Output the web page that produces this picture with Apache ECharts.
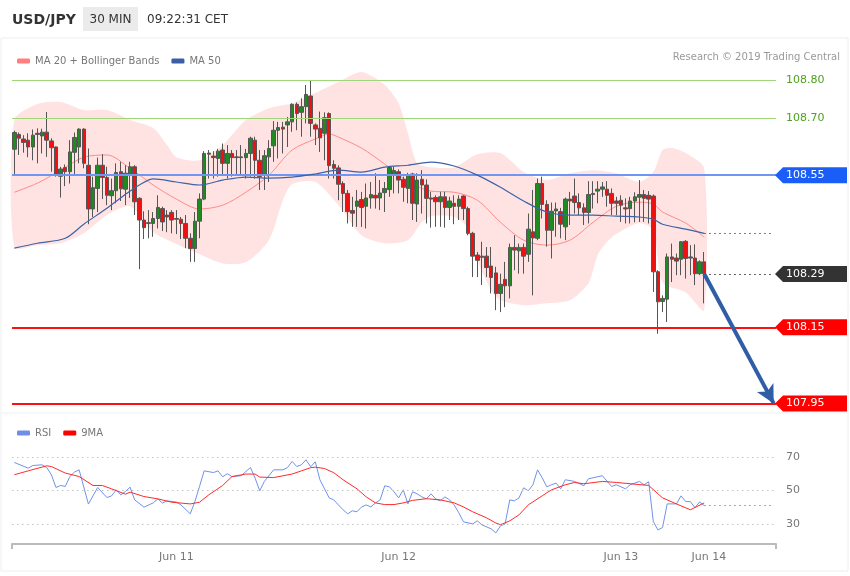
<!DOCTYPE html>
<html>
<head>
<meta charset="utf-8">
<script src="https://cdn.jsdelivr.net/npm/echarts@6/dist/echarts.min.js"></script>
<style>html,body{margin:0;padding:0;background:#fff}#c{width:850px;height:576px}</style>
</head>
<body>
<div id="c"></div>
<script>
// ---- candle data (30 min USD/JPY) ----
const opens = [108.618,108.657,108.645,108.642,108.624,108.660,108.653,108.663,108.640,108.624,
108.547,108.570,108.559,108.610,108.624,108.671,108.576,108.461,108.515,108.576,
108.544,108.496,108.509,108.559,108.513,108.550,108.572,108.489,108.432,108.425,
108.423,108.436,108.462,108.445,108.452,108.436,108.434,108.423,108.384,108.357,
108.429,108.487,108.608,108.600,108.594,108.616,108.581,108.607,108.598,108.596,
108.596,108.607,108.642,108.589,108.550,108.598,108.627,108.668,108.676,108.682,
108.690,108.736,108.715,108.730,108.758,108.682,108.673,108.660,108.712,108.578,
108.569,108.528,108.502,108.457,108.468,108.486,108.468,108.490,108.497,108.490,
108.504,108.512,108.553,108.559,108.539,108.515,108.553,108.474,108.539,108.524,
108.490,108.491,108.480,108.493,108.465,108.476,108.468,108.495,108.462,108.397,
108.340,108.337,108.337,108.311,108.293,108.239,108.276,108.259,108.360,108.351,
108.360,108.342,108.401,108.384,108.528,108.473,108.405,108.456,108.454,108.414,
108.487,108.495,108.478,108.464,108.452,108.499,108.508,108.513,108.513,108.502,
108.482,108.484,108.464,108.462,108.482,108.492,108.499,108.497,108.495,108.296,
108.218,108.224,108.335,108.332,108.329,108.376,108.335,108.332,108.291,108.322];
const closes = [108.662,108.647,108.636,108.624,108.655,108.657,108.663,108.642,108.622,108.553,
108.566,108.559,108.611,108.649,108.671,108.581,108.461,108.517,108.576,108.544,
108.497,108.509,108.557,108.514,108.555,108.572,108.480,108.432,108.412,108.423,
108.436,108.465,108.427,108.440,108.432,108.434,108.423,108.384,108.357,108.429,
108.487,108.607,108.605,108.596,108.613,108.581,108.607,108.596,108.596,108.598,
108.607,108.647,108.589,108.546,108.601,108.620,108.668,108.675,108.671,108.690,
108.736,108.712,108.730,108.762,108.686,108.671,108.648,108.701,108.575,108.568,
108.526,108.502,108.454,108.450,108.482,108.465,108.490,108.499,108.490,108.503,
108.515,108.570,108.562,108.537,108.518,108.550,108.476,108.537,108.524,108.489,
108.487,108.480,108.493,108.465,108.482,108.468,108.487,108.462,108.397,108.337,
108.326,108.334,108.307,108.281,108.239,108.263,108.259,108.360,108.353,108.360,
108.337,108.408,108.385,108.528,108.473,108.405,108.455,108.461,108.421,108.487,
108.482,108.478,108.464,108.452,108.499,108.502,108.513,108.519,108.497,108.476,
108.476,108.471,108.461,108.482,108.493,108.499,108.489,108.487,108.296,108.217,
108.226,108.335,108.329,108.324,108.375,108.331,108.332,108.291,108.322,108.291];
const lows = [108.550,108.603,108.609,108.597,108.589,108.581,108.607,108.598,108.559,108.546,
108.491,108.521,108.528,108.553,108.581,108.568,108.421,108.440,108.453,108.487,
108.471,108.458,108.476,108.482,108.471,108.490,108.445,108.303,108.382,108.384,
108.388,108.410,108.403,108.400,108.397,108.395,108.382,108.358,108.322,108.322,
108.384,108.484,108.541,108.541,108.546,108.550,108.541,108.546,108.550,108.550,
108.541,108.546,108.541,108.511,108.511,108.532,108.585,108.594,108.607,108.624,
108.664,108.668,108.651,108.686,108.651,108.629,108.611,108.589,108.541,108.541,
108.484,108.453,108.423,108.414,108.414,108.414,108.410,108.462,108.462,108.458,
108.453,108.493,108.502,108.502,108.480,108.476,108.432,108.427,108.449,108.423,
108.412,108.414,108.414,108.412,108.432,108.421,108.432,108.432,108.392,108.282,
108.282,108.261,108.282,108.239,108.195,108.190,108.203,108.226,108.300,108.291,
108.291,108.322,108.234,108.379,108.436,108.362,108.331,108.388,108.384,108.379,
108.419,108.449,108.445,108.419,108.423,108.462,108.476,108.493,108.467,108.445,
108.445,108.427,108.423,108.423,108.426,108.427,108.427,108.423,108.243,108.133,
108.190,108.164,108.269,108.287,108.287,108.278,108.287,108.261,108.287,108.213];
const highs = [108.667,108.662,108.655,108.660,108.670,108.673,108.672,108.716,108.647,108.625,
108.572,108.578,108.642,108.662,108.673,108.673,108.620,108.546,108.596,108.605,
108.572,108.541,108.581,108.585,108.576,108.585,108.576,108.492,108.455,108.458,
108.453,108.497,108.467,108.458,108.458,108.458,108.440,108.445,108.397,108.453,
108.502,108.613,108.616,108.613,108.619,108.633,108.629,108.616,108.616,108.629,
108.619,108.651,108.651,108.616,108.616,108.642,108.692,108.690,108.690,108.703,
108.739,108.741,108.752,108.787,108.800,108.686,108.717,108.715,108.715,108.589,
108.576,108.534,108.511,108.493,108.511,108.506,108.528,108.532,108.555,108.537,
108.532,108.572,108.572,108.565,108.546,108.556,108.556,108.555,108.563,108.539,
108.506,108.497,108.506,108.506,108.493,108.497,108.497,108.497,108.467,108.401,
108.348,108.375,108.361,108.361,108.309,108.291,108.322,108.370,108.392,108.370,
108.370,108.449,108.511,108.541,108.546,108.484,108.478,108.478,108.464,108.491,
108.506,108.541,108.502,108.476,108.534,108.534,108.534,108.532,108.534,108.515,
108.493,108.497,108.489,108.493,108.505,108.537,108.511,108.508,108.499,108.300,
108.234,108.344,108.370,108.344,108.376,108.379,108.366,108.368,108.326,108.348];

// ---- indicators (read at sampled candle indices) ----
const upperIdx  = [0,5,10,15,20,25,30,33,35,40,45,50,55,60,65,70,75,80,83,85,87,90,95,100,105,110,115,120,125,130,135,138,140,142,145,149];
const upperVals = [108.695,108.737,108.742,108.721,108.721,108.695,108.674,108.629,108.597,108.589,108.629,108.695,108.726,108.739,108.766,108.795,108.821,108.787,108.739,108.661,108.581,108.571,108.571,108.605,108.608,108.558,108.537,108.555,108.563,108.555,108.532,108.558,108.616,108.621,108.608,108.568];
const lowerIdx  = [0,5,10,15,20,25,30,35,40,45,50,55,58,60,65,70,75,80,85,88,90,95,98,100,103,105,110,115,120,124,126,128,130,135,138,140,145,149];
const lowerVals = [108.361,108.366,108.371,108.397,108.445,108.468,108.400,108.369,108.342,108.318,108.321,108.379,108.484,108.526,108.532,108.471,108.392,108.371,108.379,108.426,108.442,108.440,108.411,108.326,108.247,108.221,108.208,108.213,108.221,108.266,108.340,108.374,108.395,108.424,108.405,108.268,108.242,108.195];
const ma20Idx  = [0,5,10,15,20,25,30,35,40,45,50,55,60,65,68,70,75,80,85,90,95,100,105,110,115,120,125,130,135,138,140,145,149];
const ma20Vals = [108.505,108.529,108.563,108.597,108.603,108.568,108.524,108.487,108.461,108.471,108.505,108.550,108.616,108.645,108.658,108.650,108.621,108.579,108.534,108.508,108.505,108.484,108.426,108.379,108.366,108.379,108.426,108.468,108.479,108.474,108.453,108.424,108.387];
const ma50Idx  = [0,5,11,15,20,25,27,30,35,40,45,50,55,60,65,70,75,80,85,90,95,100,105,110,115,120,125,130,135,138,140,145,149];
const ma50Vals = [108.358,108.371,108.384,108.421,108.463,108.508,108.524,108.540,108.532,108.524,108.537,108.545,108.542,108.545,108.553,108.563,108.558,108.571,108.576,108.584,108.574,108.550,108.518,108.482,108.453,108.445,108.445,108.442,108.440,108.434,108.421,108.408,108.397];

const rsiIdx  = [0,3,4,6,7,8,9,10,11,12,13,14,16,18,20,21,22,23,24,25,26,28,30,31,32,33,35,36,38,39,40,41,43,44,45,46,47,49,51,52,53,54,56,58,59,60,61,62,63,64,65,66,68,69,70,71,72,73,74,75,76,77,78,79,80,81,82,83,84,85,86,87,88,89,90,91,92,93,94,95,96,97,99,100,101,103,104,105,106,107,108,109,110,111,112,113,114,115,116,117,118,119,121,123,124,127,129,130,132,133,135,136,137,138,139,140,141,143,144,145,146,147,148,149];
const rsiVals = [66.6,63.2,64.8,65.2,63.6,59.3,51.7,52.9,52.3,58.2,60.9,62.2,41.8,51.7,45.7,46.7,50.3,47.3,49.3,51.9,44.3,40.0,42.5,44.9,42.4,43.7,43.0,41.3,36.0,43.3,52.3,61.6,60.6,61.6,58.1,59.9,58.2,58.7,63.6,57.3,49.7,55.3,62.2,62.2,63.6,67.2,64.2,65.2,68.2,64.0,67.0,56.3,45.5,44.3,41.3,38.4,36.0,37.8,37.2,40.1,41.3,40.1,42.5,44.3,52.7,52.1,49.1,45.5,50.3,41.9,49.1,47.9,46.1,44.9,47.9,44.9,43.7,46.1,44.3,41.3,36.6,31.2,30.0,31.8,29.4,27.0,24.6,28.8,30.0,44.3,43.7,45.5,51.5,49.7,53.3,62.2,57.5,52.1,53.3,54.3,50.9,56.3,55.3,52.7,56.9,58.7,52.3,53.3,50.9,53.3,55.3,53.3,55.1,31.4,26.4,27.8,41.9,41.9,46.7,43.3,43.3,39.6,43.1,40.9];
const ma9Idx  = [0,3,7,8,11,14,17,19,21,24,25,28,31,34,38,40,42,45,47,50,52,53,56,60,62,64,65,67,69,71,74,76,78,80,82,84,86,89,92,95,97,99,102,104,105,107,109,111,114,116,119,121,123,127,130,137,140,143,146,149];
const ma9Vals = [59.3,61.6,64.6,64.2,60.3,58.2,52.9,52.9,50.9,47.7,48.9,46.3,44.9,42.9,41.9,42.9,47.3,52.9,58.2,59.7,59.7,57.9,57.6,59.7,61.6,63.5,63.8,63.0,60.5,56.3,50.9,46.1,42.5,41.5,41.5,42.5,44.0,45.0,44.3,42.5,40.1,37.2,33.6,30.5,29.5,31.8,35.4,41.3,46.7,50.3,53.3,54.7,53.9,55.3,54.7,52.9,45.5,41.9,38.4,42.5];

// ---- axis / levels ----
const categoryCount = 165;
const tickIdx = [35, 83, 131, 150];
const tickLabels = ['Jun 11', 'Jun 12', 'Jun 13', 'Jun 14'];
const rsiTicks = [30, 50, 70];
const levelVals = [108.80, 108.70, 108.55, 108.29, 108.15, 107.95];
const levelLabels = ['108.80', '108.70', '108.55', '108.29', '108.15', '107.95'];
const lastPrice = 108.29;
const targetPrice = 107.95;

const FONT = '"DejaVu Sans"';
const xCats = Array.from({length: categoryCount}, (_, i) => String(i));
const candleData = opens.map((o, i) => [o, closes[i], lows[i], highs[i]]);
const pairs = (ix, vs) => ix.map((x, k) => [x, vs[k]]);
const lastIdx = opens.length - 1;
const lastRsi = rsiVals[rsiVals.length - 1];
const lastMa50 = ma50Vals[ma50Vals.length - 1];

const chart = echarts.init(document.getElementById('c'), null, {renderer: 'canvas'});
const dots = [1.5, 3.5];

const option = {
  animation: false,
  backgroundColor: '#ffffff',
  textStyle: {fontFamily: 'DejaVu Sans'},
  legend: [
    {data: ['MA 20 + Bollinger Bands', 'MA 50'], left: 12, top: 51, icon: 'roundRect', itemWidth: 13, itemHeight: 5, itemGap: 12,
     textStyle: {color: '#777', fontSize: 10}, selectedMode: false},
    {data: ['RSI', '9MA'], left: 12, top: 423, icon: 'roundRect', itemWidth: 13, itemHeight: 5, itemGap: 12,
     textStyle: {color: '#777', fontSize: 10}, selectedMode: false}
  ],
  grid: [
    {left: 12, right: 74, top: 61, height: 350},
    {left: 12, right: 74, top: 440, height: 104}
  ],
  xAxis: [
    {type: 'category', gridIndex: 0, data: xCats, boundaryGap: true, show: false},
    {type: 'category', gridIndex: 1, data: xCats, boundaryGap: true,
     axisLine: {lineStyle: {color: '#bbbbbb', width: 2}},
     axisTick: {show: true, interval: (i) => i === 0, length: 5, lineStyle: {color: '#bbbbbb', width: 2}},
     axisLabel: {interval: (i) => tickIdx.includes(i), color: '#777', fontSize: 11, margin: 8,
       formatter: (v) => { const k = tickIdx.indexOf(Number(v)); return k >= 0 ? tickLabels[k] : ''; }},
     splitLine: {show: false}}
  ],
  yAxis: [
    {type: 'value', gridIndex: 0, min: 107.93, max: 108.85, show: false, splitLine: {show: false}},
    {type: 'value', gridIndex: 1, min: 18, max: 80, position: 'right',
     axisLine: {show: false}, axisTick: {show: false}, splitLine: {show: false},
     axisLabel: {customValues: rsiTicks, color: '#777', fontSize: 11, margin: 10,
       formatter: (v) => rsiTicks.includes(v) ? String(v) : ''}}
  ],
  series: [
    {type: 'custom', name: 'band', xAxisIndex: 0, yAxisIndex: 0, z: 1, silent: true, clip: false,
     data: [0],
     renderItem: (params, api) => {
       const up = upperIdx.map((ix, k) => api.coord([ix, upperVals[k]]));
       const lo = lowerIdx.map((ix, k) => api.coord([ix, lowerVals[k]])).reverse();
       return {type: 'polygon', shape: {points: up.concat(lo), smooth: 0.25}, style: {fill: '#ffe3e3'}};
     }},
    {type: 'line', name: 'levels', xAxisIndex: 0, yAxisIndex: 0, z: 2, data: [], silent: true,
     markLine: {silent: true, symbol: 'none', label: {show: false}, animation: false,
       data: [
         {yAxis: levelVals[0], lineStyle: {color: '#9fd67a', width: 1.2, type: 'solid'}},
         {yAxis: levelVals[1], lineStyle: {color: '#9fd67a', width: 1.2, type: 'solid'}},
         {yAxis: levelVals[2], lineStyle: {color: '#6e96f2', width: 2, type: 'solid'}},
         {yAxis: levelVals[4], lineStyle: {color: '#ff1010', width: 2, type: 'solid'}},
         {yAxis: levelVals[5], lineStyle: {color: '#ff1010', width: 2, type: 'solid'}},
         [{coord: [lastIdx, levelVals[3]], lineStyle: {color: '#333', width: 1, type: dots}}, {coord: [categoryCount - 1, levelVals[3]]}],
         [{coord: [lastIdx, lastMa50], lineStyle: {color: '#555', width: 1, type: dots}}, {coord: [categoryCount - 1, lastMa50]}]
       ]}},
    {type: 'line', name: 'MA 20 + Bollinger Bands', xAxisIndex: 0, yAxisIndex: 0, z: 3, data: pairs(ma20Idx, ma20Vals),
     showSymbol: false, smooth: 0.3, lineStyle: {color: '#ff8a8a', width: 1}, itemStyle: {color: '#ff7f7f'}, silent: true},
    {type: 'candlestick', name: 'USD/JPY', xAxisIndex: 0, yAxisIndex: 0, z: 4, data: candleData, barWidth: 4, silent: true,
     itemStyle: {color: '#1f8a1f', color0: '#ee1111', borderColor: '#555', borderColor0: '#555', borderWidth: 1}},
    {type: 'line', name: 'MA 50', xAxisIndex: 0, yAxisIndex: 0, z: 5, data: pairs(ma50Idx, ma50Vals),
     showSymbol: false, smooth: 0.3, lineStyle: {color: '#3d63a6', width: 1.2}, itemStyle: {color: '#3a5fa5'}, silent: true},
    {type: 'line', name: 'arrow', xAxisIndex: 0, yAxisIndex: 0, z: 6, data: [], silent: true,
     markLine: {silent: true, symbol: ['none', 'arrow'], symbolSize: [14, 18], label: {show: false}, animation: false,
       lineStyle: {color: '#2f5ea6', width: 4, type: 'solid'},
       data: [[{coord: [lastIdx, lastPrice]}, {coord: [categoryCount - 1, targetPrice]}]]}},
    {type: 'line', name: 'RSI', xAxisIndex: 1, yAxisIndex: 1, z: 3, data: pairs(rsiIdx, rsiVals),
     showSymbol: false, lineStyle: {color: '#6f93ea', width: 1}, itemStyle: {color: '#6f8fe6'}, silent: true,
     markLine: {silent: true, symbol: 'none', label: {show: false}, animation: false,
       data: [
         {yAxis: rsiTicks[0], lineStyle: {color: '#c4c4c4', width: 1, type: dots}},
         {yAxis: rsiTicks[1], lineStyle: {color: '#c4c4c4', width: 1, type: dots}},
         {yAxis: rsiTicks[2], lineStyle: {color: '#c4c4c4', width: 1, type: dots}},
         [{coord: [lastIdx, lastRsi], lineStyle: {color: '#6f8fe6', width: 1, type: dots}}, {coord: [categoryCount - 1, lastRsi]}]
       ]}},
    {type: 'line', name: '9MA', xAxisIndex: 1, yAxisIndex: 1, z: 4, data: pairs(ma9Idx, ma9Vals),
     showSymbol: false, lineStyle: {color: '#ff2a2a', width: 1}, itemStyle: {color: '#ff0000'}, silent: true}
  ]
};
chart.setOption(option);

// ---- header & level tags (positions from the library's y scale) ----
const tagStyles = [
  {kind: 'text', color: '#4ea21f'},
  {kind: 'text', color: '#4ea21f'},
  {kind: 'tag', color: '#1b5ef7'},
  {kind: 'tag', color: '#333333'},
  {kind: 'tag', color: '#ff0000'},
  {kind: 'tag', color: '#ff0000'}
];
const g = [
  {type: 'rect', shape: {x: 1, y: 38, width: 847, height: 533}, style: {fill: 'none', stroke: '#eeeeee', lineWidth: 1}, silent: true, z: 0},
  {type: 'line', shape: {x1: 1, y1: 413, x2: 848, y2: 413}, style: {stroke: '#f0f0f0', lineWidth: 1}, silent: true},
  {type: 'text', x: 12, y: 20, style: {text: 'USD/JPY', font: 'bold 14px ' + FONT, fill: '#333', verticalAlign: 'middle'}},
  {type: 'rect', shape: {x: 83, y: 7, width: 55, height: 24}, style: {fill: '#ebebeb'}},
  {type: 'text', x: 110.5, y: 20, style: {text: '30 MIN', font: '12px ' + FONT, fill: '#333', align: 'center', verticalAlign: 'middle'}},
  {type: 'text', x: 147, y: 20, style: {text: '09:22:31 CET', font: '12px ' + FONT, fill: '#333', verticalAlign: 'middle'}},
  {type: 'text', x: 840, y: 57, style: {text: 'Research \u00a9 2019 Trading Central', font: '10px ' + FONT, fill: '#999', align: 'right', verticalAlign: 'middle'}}
];
levelVals.forEach((v, i) => {
  const y = chart.convertToPixel({yAxisIndex: 0}, v);
  const st = tagStyles[i];
  if (st.kind === 'tag') {
    g.push({type: 'polygon', shape: {points: [[775, y], [783, y - 8], [847, y - 8], [847, y + 8], [783, y + 8]]}, style: {fill: st.color}, z: 10});
    g.push({type: 'text', x: 786, y: y, style: {text: levelLabels[i], font: '11px ' + FONT, fill: '#fff', verticalAlign: 'middle'}, z: 11});
  } else {
    g.push({type: 'text', x: 786, y: y, style: {text: levelLabels[i], font: '11px ' + FONT, fill: st.color, verticalAlign: 'middle'}, z: 11});
  }
});
chart.setOption({graphic: g});
</script>
</body>
</html>
